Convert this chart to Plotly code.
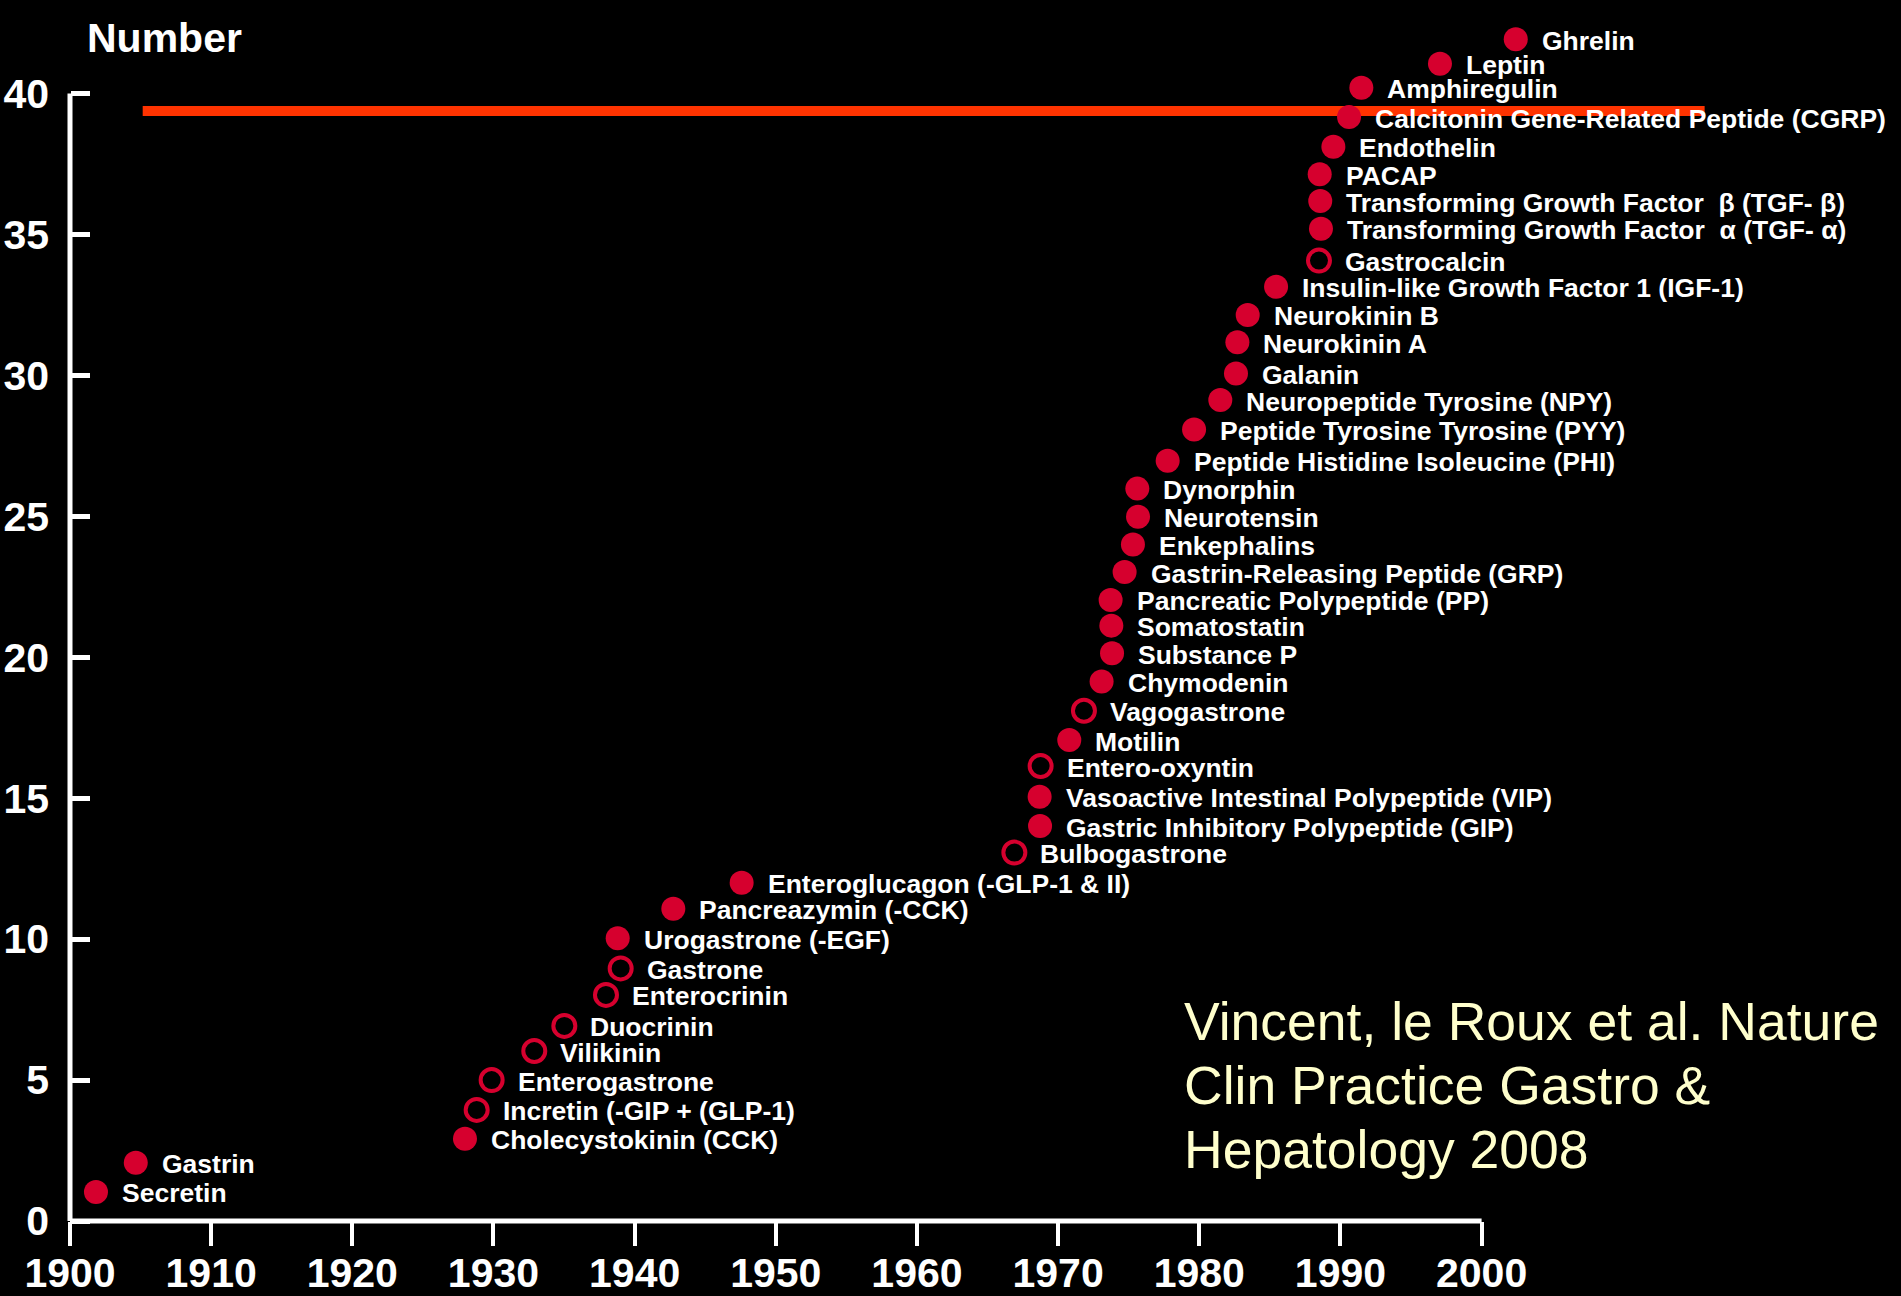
import plotly.graph_objects as go

# ---------------- data ----------------
hormones = [
    "Secretin", "Gastrin", "Cholecystokinin (CCK)", "Incretin (-GIP + (GLP-1)",
    "Enterogastrone", "Vilikinin", "Duocrinin", "Enterocrinin", "Gastrone",
    "Urogastrone (-EGF)", "Pancreazymin (-CCK)", "Enteroglucagon (-GLP-1 & II)",
    "Bulbogastrone", "Gastric Inhibitory Polypeptide (GIP)",
    "Vasoactive Intestinal Polypeptide (VIP)", "Entero-oxyntin", "Motilin",
    "Vagogastrone", "Chymodenin", "Substance P", "Somatostatin",
    "Pancreatic Polypeptide (PP)", "Gastrin-Releasing Peptide (GRP)",
    "Enkephalins", "Neurotensin", "Dynorphin",
    "Peptide Histidine Isoleucine (PHI)", "Peptide Tyrosine Tyrosine (PYY)",
    "Neuropeptide Tyrosine (NPY)", "Galanin", "Neurokinin A", "Neurokinin B",
    "Insulin-like Growth Factor 1 (IGF-1)", "Gastrocalcin",
    "Transforming Growth Factor\u00a0 \u03b1 (TGF- \u03b1)",
    "Transforming Growth Factor\u00a0 \u03b2 (TGF- \u03b2)",
    "PACAP", "Endothelin", "Calcitonin Gene-Related Peptide (CGRP)",
    "Amphiregulin", "Leptin", "Ghrelin",
]
years = [
    1901.84, 1904.66, 1927.98, 1928.81, 1929.87, 1932.89, 1935.02, 1937.97,
    1939.01, 1938.80, 1942.74, 1947.58, 1966.90, 1968.72, 1968.69, 1968.76,
    1970.79, 1971.83, 1973.08, 1973.82, 1973.77, 1973.72, 1974.71, 1975.30,
    1975.66, 1975.61, 1977.76, 1979.63, 1981.49, 1982.60, 1982.70, 1983.43,
    1985.44, 1988.48, 1988.62, 1988.57, 1988.53, 1989.50, 1990.61, 1991.48,
    1997.05, 2002.42,
]
numbers = [
    1.03, 2.07, 2.92, 3.94, 5.00, 6.03, 6.92, 8.02, 8.96, 10.03, 11.08, 12.00,
    13.07, 14.01, 15.05, 16.14, 17.06, 18.10, 19.14, 20.14, 21.12, 22.03,
    23.02, 24.00, 24.98, 25.98, 26.97, 28.08, 29.12, 30.06, 31.17, 32.14,
    33.14, 34.07, 35.20, 36.18, 37.13, 38.11, 39.16, 40.20, 41.05, 41.92,
]
# True = established hormone (filled dot), False = not confirmed (open ring)
established = [
    True, True, True, False, False, False, False, False, False, True, True,
    True, False, True, True, False, True, False, True, True, True, True, True,
    True, True, True, True, True, True, True, True, True, True, False, True,
    True, True, True, True, True, True, True,
]
x_ticks = [1900, 1910, 1920, 1930, 1940, 1950, 1960, 1970, 1980, 1990, 2000]
y_ticks = [0, 5, 10, 15, 20, 25, 30, 35, 40]
ref_line_years = [1905.15, 2015.8]
ref_line_number = [39.38, 39.38]
citation = ["Vincent, le Roux et al. Nature", "Clin Practice Gastro &", "Hepatology 2008"]

# ---------------- styling ----------------
FONT = "Liberation Sans, Arial, Helvetica, sans-serif"
RED = "#D6002E"
LINE_RED = "#FF3300"
W, H = 1901, 1296
PX_YEAR = 14.116   # pixels per year
PX_UNIT = 28.19    # pixels per count
X0_PX, Y0_PX = 70, 1221   # pixel position of (1900, 0)

xmin = 1900 - X0_PX / PX_YEAR
xmax = 1900 + (W - X0_PX) / PX_YEAR
ymin = -(H - Y0_PX) / PX_UNIT
ymax = Y0_PX / PX_UNIT

fx = [x for x, e in zip(years, established) if e]
fy = [y for y, e in zip(numbers, established) if e]
ox = [x for x, e in zip(years, established) if not e]
oy = [y for y, e in zip(numbers, established) if not e]

fig = go.Figure()
fig.add_trace(go.Scatter(x=ref_line_years, y=ref_line_number, mode="lines",
                         line=dict(color=LINE_RED, width=10), hoverinfo="skip",
                         showlegend=False))
fig.add_trace(go.Scatter(x=fx, y=fy, mode="markers",
                         marker=dict(symbol="circle", size=24, color=RED,
                                     line=dict(width=0)),
                         showlegend=False, cliponaxis=False))
fig.add_trace(go.Scatter(x=ox, y=oy, mode="markers",
                         marker=dict(symbol="circle-open", size=22, color=RED,
                                     line=dict(width=4, color=RED)),
                         showlegend=False, cliponaxis=False))

# hormone labels
for name, xv, yv in zip(hormones, years, numbers):
    fig.add_annotation(text=name, x=xv, y=yv, xref="x", yref="y",
                       xanchor="left", yanchor="middle", xshift=24, yshift=-1.5,
                       showarrow=False,
                       font=dict(family=FONT, size=26.5, color="white",
                                 weight="bold"))

# axis lines
fig.add_shape(type="line", xref="x", yref="y", x0=x_ticks[0], x1=x_ticks[-1],
              y0=0, y1=0, line=dict(color="white", width=5))
fig.add_shape(type="line", xref="x", yref="y", x0=x_ticks[0], x1=x_ticks[0],
              y0=0, y1=y_ticks[-1], line=dict(color="white", width=5))

fig.add_annotation(text="Number", xref="paper", yref="paper",
                   x=85 / W, y=1 - 38 / H, xanchor="left", yanchor="middle",
                   showarrow=False,
                   font=dict(family=FONT, size=41, color="white", weight="bold"))
for i, line in enumerate(citation):
    fig.add_annotation(text=line, xref="paper", yref="paper",
                       x=1182 / W, y=1 - (1021 + 64 * i) / H,
                       xanchor="left", yanchor="middle", showarrow=False,
                       font=dict(family=FONT, size=53.5, color="#FFFFCC"))

fig.update_layout(
    width=W, height=H,
    paper_bgcolor="black", plot_bgcolor="black",
    margin=dict(l=0, r=0, t=0, b=0, autoexpand=False),
    font=dict(family=FONT, color="white"),
    xaxis=dict(range=[xmin, xmax], anchor="free", automargin=False,
               position=(0 - ymin) / (ymax - ymin),
               tickvals=x_ticks, ticktext=[str(v) for v in x_ticks],
               ticks="outside", ticklen=24, tickwidth=4, tickcolor="white",
               ticklabelstandoff=-8,
               showgrid=False, zeroline=False, showline=False,
               tickfont=dict(family=FONT, size=41, color="white", weight="bold")),
    yaxis=dict(range=[ymin, ymax], anchor="free", automargin=False,
               position=(1900 - xmin) / (xmax - xmin),
               tickvals=y_ticks, ticktext=[str(v) for v in y_ticks],
               ticks="inside", ticklen=19, tickwidth=5, tickcolor="white",
               ticklabelstandoff=21,
               showgrid=False, zeroline=False, showline=False,
               tickfont=dict(family=FONT, size=41, color="white", weight="bold")),
)

fig.write_html("out.html", config={"displayModeBar": False},
               post_script="document.body.style.margin='0';document.body.style.overflow='hidden';")
